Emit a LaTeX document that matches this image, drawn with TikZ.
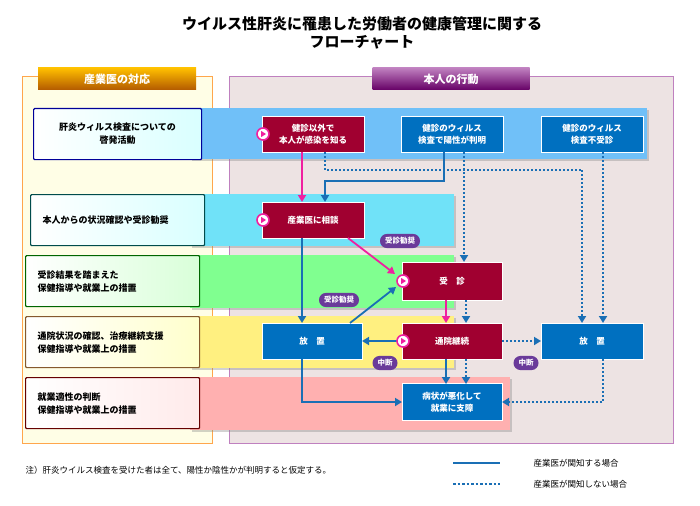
\documentclass[tikz,border=0pt]{standalone}
\usepackage{fontspec}
\setmainfont{Noto Sans CJK JP}
\usetikzlibrary{arrows.meta,calc,shadows}
\definecolor{myred}{HTML}{A00030}
\definecolor{myblue}{HTML}{0070C0}
\definecolor{mypink}{HTML}{F020A0}
\definecolor{mypurple}{HTML}{6A3A9A}
\definecolor{lnblue}{HTML}{1A6FB5}
\begin{document}
\begin{tikzpicture}[x=1pt,y=-1pt,font=\bfseries\fontsize{8.5}{12}\selectfont,
 band/.style={draw=none,drop shadow={opacity=0.35,shadow xshift=2pt,shadow yshift=-2pt}},
 lbox/.style={draw=#1,line width=1.2pt,rounded corners=1pt,fill=white,align=left,anchor=north west,inner xsep=12pt,minimum height=51pt,text width=150pt,font=\bfseries\fontsize{9}{13}\selectfont},
 rnode/.style={fill=myred,draw=white,line width=0.6pt,text=white,minimum width=102pt,minimum height=36pt,align=center,inner sep=1pt},
 bnode/.style={fill=myblue,draw=white,line width=0.6pt,text=white,minimum width=102pt,minimum height=36pt,align=center,inner sep=1pt},
 pill/.style={fill=mypurple,text=white,rounded corners=7pt,inner xsep=5pt,inner ysep=3.5pt,font=\bfseries\fontsize{7.5}{9}\selectfont},
 icon/.style={circle,draw=mypink,line width=1.6pt,fill=white,minimum size=12pt,inner sep=0pt},
 sol/.style={lnblue,line width=1.8pt,-{Triangle[length=7pt,width=8pt]}},
 dot/.style={lnblue,line width=1.8pt,dash pattern=on 2pt off 2pt,-{Triangle[length=7pt,width=8pt]}},
 pk/.style={mypink,line width=1.8pt,-{Triangle[length=7pt,width=8pt]}}]
\useasboundingbox (0,0) rectangle (700,505);
\fill[white] (0,0) rectangle (700,505);
% title
\node[font=\bfseries\fontsize{15}{18}\selectfont,align=center] (title) at (362,33) {ウイルス性肝炎に罹患した労働者の健康管理に関する\\フローチャート};
% columns
\draw[draw=orange!70,fill=yellow!10] (22,76) rectangle (212,443);
\draw[draw=violet!50,fill={rgb,255:red,237;green,227;blue,227}] (229,76) rectangle (673,443);
\node[top color=orange!50!yellow,bottom color=orange!70!black,text=white,minimum width=158pt,minimum height=22pt,font=\bfseries\fontsize{11}{13}\selectfont] (h1) at (117,79) {産業医の対応};
\node[top color=violet!50,bottom color=violet!80!black,text=white,minimum width=157pt,minimum height=22pt,font=\bfseries\fontsize{11}{13}\selectfont] (h2) at (451,79) {本人の行動};
% bands
\fill[band,fill={rgb,255:red,112;green,192;blue,248}] (190,108) rectangle (647,159);
\fill[band,fill={rgb,255:red,112;green,226;blue,248}] (190,194) rectangle (454,246);
\fill[band,fill={rgb,255:red,128;green,255;blue,144}] (190,255) rectangle (454,308);
\fill[band,fill={rgb,255:red,255;green,240;blue,128}] (190,316) rectangle (454,368);
\fill[band,fill={rgb,255:red,255;green,176;blue,176}] (190,377) rectangle (510,430);
% left boxes
\node[lbox={blue!60!black},align=center,inner xsep=4pt,text width=160pt,left color=white,right color=cyan!15] (l1) at (33,108) {肝炎ウィルス検査についての\\啓発活動};
\node[lbox={teal!60!black},left color=white,right color=cyan!15] (l2) at (30,194) {本人からの状況確認や受診勧奨};
\node[lbox={green!40!black},left color=white,right color=green!15] (l3) at (25,255) {受診結果を踏まえた\\保健指導や就業上の措置};
\node[lbox={brown!70!black},left color=white,right color=yellow!20] (l4) at (25,316) {通院状況の確認、治療継続支援\\保健指導や就業上の措置};
\node[lbox={red!40!black},left color=white,right color=red!8] (l5) at (25,377) {就業適性の判断\\保健指導や就業上の措置};
% nodes
\node[rnode] (k1) at (313,134) {健診以外で\\本人が感染を知る};
\node[bnode] (k2) at (452,134) {健診のウィルス\\検査で陽性が判明};
\node[bnode] (k3) at (592,134) {健診のウィルス\\検査不受診};
\node[rnode] (so) at (313,220) {産業医に相談};
\node[rnode,minimum width=100pt,minimum height=38pt] (ju) at (452,281) {受\quad 診};
\node[bnode,minimum width=100pt] (h1n) at (312,341) {放\quad 置};
\node[rnode,minimum width=100pt] (ts) at (452,341) {通院継続};
\node[bnode] (h2n) at (592,341) {放\quad 置};
\node[bnode,minimum width=100pt,minimum height=37pt] (by) at (452,402) {病状が悪化して\\就業に支障};
% arrows
\draw[pk] (302,152) -- (302,202);
\draw[dot,-] (325,152) -- (325,170) -- (582,170) coordinate (c1);
\draw[dot] (c1) -- (582,323);
\draw[sol] (444,152) -- (444,181) -- (325,181) -- (325,202);
\draw[dot] (464,152) -- (464,262);
\draw[dot] (603,152) -- (603,323);
\draw[sol] (302,238) -- (302,323);
\draw[pk] (348,238) -- (395,274);
\draw[sol] (350,323) -- (396,287);
\draw[pk] (446,300) -- (446,323);
\draw[dot] (466,300) -- (466,323);
\draw[sol] (397,341) -- (362,341);
\draw[dot] (502,341) -- (541,341);
\draw[sol] (446,359) -- (446,384);
\draw[dot] (466,359) -- (466,384);
\draw[sol] (302,359) -- (302,402) -- (402,402);
\draw[dot] (603,359) -- (603,402) -- (502,402);
% icons
\foreach \n/\p in {i1/{(263,134)},i2/{(263,220)},i3/{(403,281)},i4/{(403,341)}}{
 \node[icon] (\n) at \p {};
 \fill[mypink] ($(\n)+(-1.8,-3)$) -- ($(\n)+(3,0)$) -- ($(\n)+(-1.8,3)$) -- cycle;
}
% pills
\node[pill] (p1) at (400,241) {受診勧奨};
\node[pill] (p2) at (339,300) {受診勧奨};
\node[pill] (p3) at (385,363) {中断};
\node[pill] (p4) at (526,363) {中断};
% legend
\node[anchor=west,font=\fontsize{8.5}{10}\selectfont] (note) at (22,470) {注）肝炎ウイルス検査を受けた者は全て、陽性か陰性かが判明すると仮定する。};
\coordinate (la) at (453,463); \coordinate (lb) at (500,463);
\coordinate (lc) at (453,484); \coordinate (ld) at (500,484);
\draw[lnblue,line width=2pt] (la) -- (lb);
\draw[lnblue,line width=2pt,dash pattern=on 2.5pt off 2pt] (lc) -- (ld);
\node[anchor=west,font=\fontsize{8.5}{10}\selectfont] (t1) at (530,463) {産業医が関知する場合};
\node[anchor=west,font=\fontsize{8.5}{10}\selectfont] (t2) at (530,484) {産業医が関知しない場合};
\end{tikzpicture}
\end{document}
